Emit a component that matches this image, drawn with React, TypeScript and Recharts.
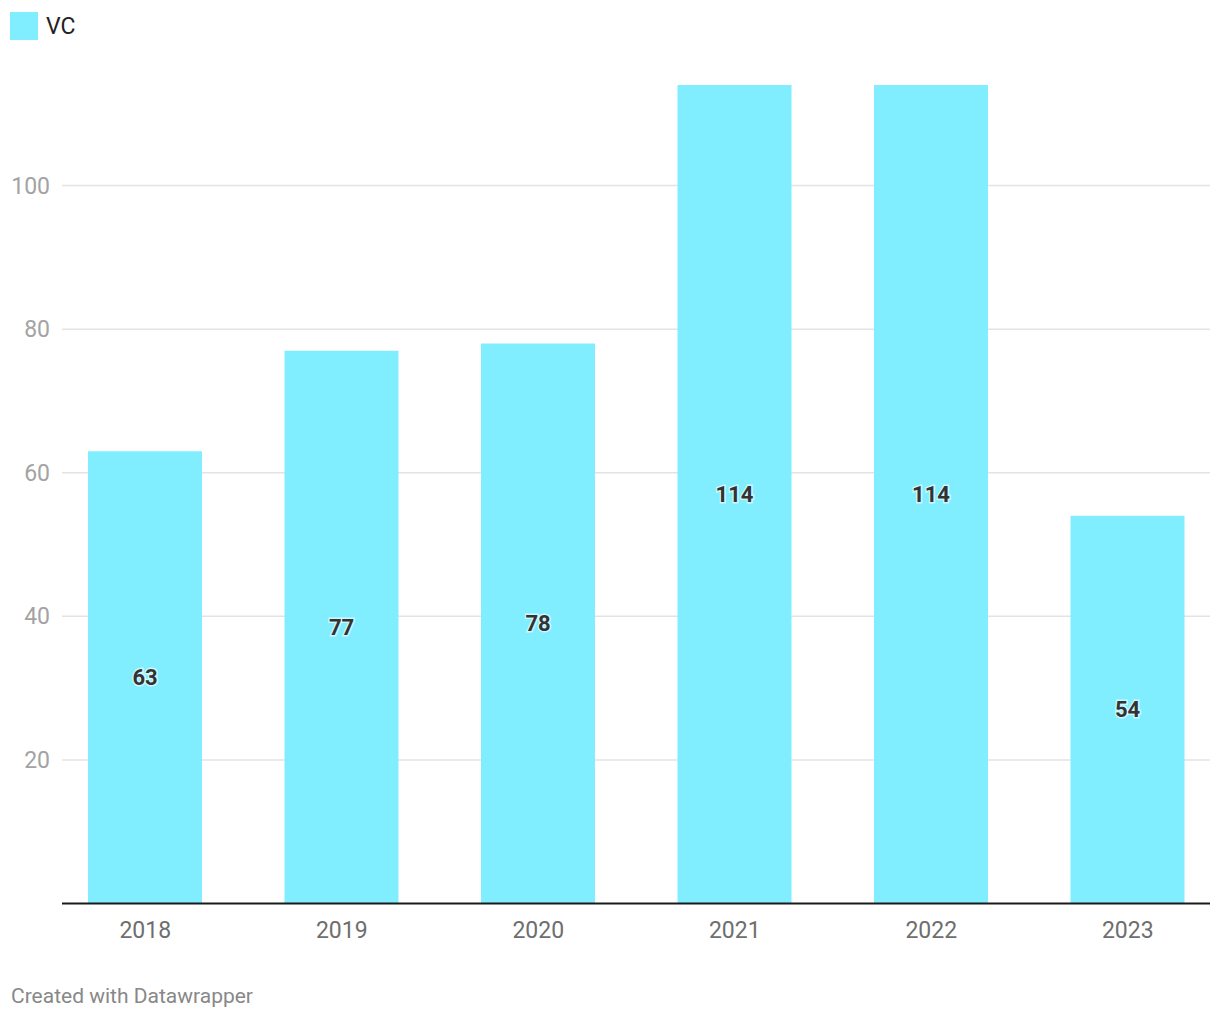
import { Bar, BarChart, CartesianGrid, LabelList, XAxis, YAxis } from 'recharts';

const years = ['2018', '2019', '2020', '2021', '2022', '2023'];
const vcCounts = [63, 77, 78, 114, 114, 54];
const yTicks = [20, 40, 60, 80, 100];

const data = years.map((year, i) => ({ year, vc: vcCounts[i] }));

const FONT = 'Roboto, "Noto Sans", sans-serif';

export default function App() {
  return (
    <div style={{ position: 'absolute', left: 0, top: 0, width: 1220, height: 1020, fontFamily: FONT, background: '#fff' }}>
      <div style={{ position: 'absolute', left: 10, top: 12, display: 'flex', alignItems: 'center' }}>
        <span style={{ width: 28, height: 28, background: '#80eeff', display: 'inline-block' }} />
        <span style={{ marginLeft: 8, fontSize: 23, color: '#222' }}>VC</span>
      </div>
      <BarChart
        width={1220}
        height={1020}
        data={data}
        margin={{ top: 42, right: 10, left: 0, bottom: 76.5 }}
      >
        <CartesianGrid
          vertical={false}
          horizontalValues={yTicks}
          stroke="#e3e3e3"
          strokeWidth={1.5}
        />
        <YAxis
          domain={[0, 120]}
          ticks={yTicks}
          width={62}
          axisLine={false}
          tickLine={false}
          tickMargin={6}
          tick={{ fill: '#a3a3a3', fontSize: 23, fontFamily: FONT }}
        />
        <XAxis
          dataKey="year"
          height={40}
          padding={{ left: -15, right: -16 }}
          axisLine={{ stroke: '#1a1a1a', strokeWidth: 2 }}
          tickLine={false}
          tickMargin={12}
          tick={{ fill: '#6e6e6e', fontSize: 23, fontFamily: FONT }}
        />
        <Bar dataKey="vc" fill="#80eeff" barSize={114} isAnimationActive={false}>
          <LabelList
            dataKey="vc"
            position="center"
            style={{
              fill: '#333',
              fontSize: 22,
              fontWeight: 700,
              fontFamily: FONT,
              stroke: '#fff',
              strokeWidth: 3,
              strokeOpacity: 0.6,
              paintOrder: 'stroke',
            }}
          />
        </Bar>
      </BarChart>
      <div style={{ position: 'absolute', left: 11, top: 984, fontSize: 21, color: '#888' }}>
        Created with Datawrapper
      </div>
    </div>
  );
}
